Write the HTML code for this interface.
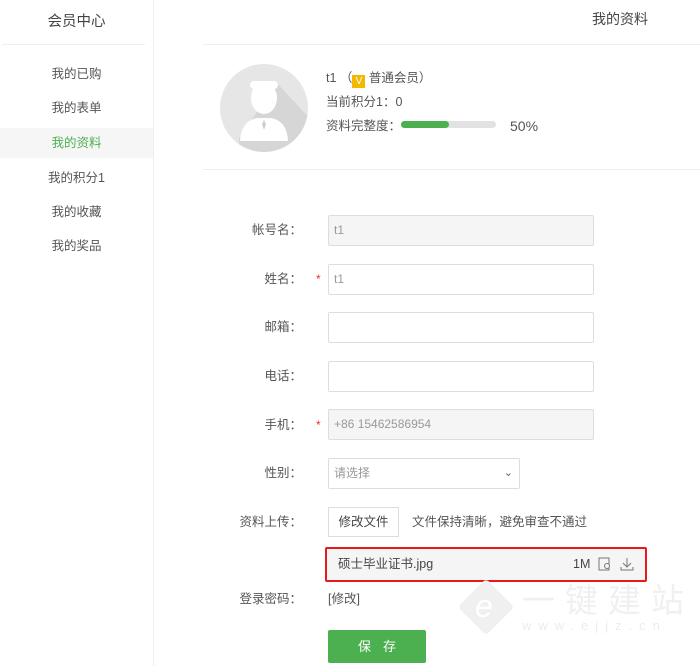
<!DOCTYPE html>
<html><head><meta charset="utf-8"><style>
*{margin:0;padding:0;box-sizing:border-box}
body{width:700px;height:668px;background:#fff;font-family:"Liberation Sans","Noto Sans CJK SC",sans-serif;position:relative;overflow:hidden;color:#555;font-size:12.5px;line-height:16px}
.a{position:absolute}
.side{left:0;top:0;width:154px;height:666px;border-right:1px solid #eee}
.nav{left:0;width:153px;text-align:center;color:#555}
.lab{width:100px;left:202px;text-align:right;color:#555}
.in{left:328px;width:266px;height:31px;border:1px solid #ddd;border-radius:2px;font-size:12px;color:#999;padding-left:5px;line-height:29px}
.star{color:#e33;left:316px;font-size:12px}
</style></head><body>
<div class="a side"></div>
<div class="a nav" style="top:14px;font-size:14.5px;color:#444">会员中心</div>
<div class="a" style="left:2px;top:44px;width:143px;height:1px;background:#eee"></div>
<div class="a nav" style="top:66px">我的已购</div>
<div class="a nav" style="top:100px">我的表单</div>
<div class="a" style="left:0;top:128px;width:153px;height:30px;background:#f6f6f6"></div>
<div class="a nav" style="top:135px;color:#4caf50">我的资料</div>
<div class="a nav" style="top:170px">我的积分1</div>
<div class="a nav" style="top:204px">我的收藏</div>
<div class="a nav" style="top:238px">我的奖品</div>

<div class="a" style="left:592px;top:11px;font-size:14px;color:#444">我的资料</div>
<div class="a" style="left:203px;top:44px;width:497px;height:1px;background:#eee"></div>
<div class="a" style="left:203px;top:169px;width:497px;height:1px;background:#eee"></div>

<svg class="a" style="left:219px;top:63px" width="90" height="90" viewBox="0 0 90 90">
<defs><clipPath id="c"><circle cx="45" cy="45" r="44"/></clipPath></defs>
<circle cx="45" cy="45" r="44" fill="#e6e6e6"/>
<polygon clip-path="url(#c)" points="58,20 95,60 95,95 20,95 20,75" fill="#d6d6d6"/>
<ellipse cx="45" cy="35" rx="13" ry="16" fill="#fff"/>
<rect x="31" y="18" width="28" height="8" rx="4" fill="#fff"/>
<path d="M21 78 Q22 58 38 55 L52 55 Q68 58 69 78 Z" fill="#fff"/>
<path d="M45 57 l-2 4 l2 6 l2 -6 z" fill="#ccc"/>
</svg>
<div class="a" style="left:326px;top:70px;color:#555">t1 （<span style="display:inline-block;width:13px;height:13px;background:#f5b800;color:#fff;font-size:10px;line-height:13px;text-align:center;vertical-align:-2px">V</span> 普通会员）</div>
<div class="a" style="left:326px;top:94px">当前积分1：0</div>
<div class="a" style="left:326px;top:118px">资料完整度：</div>
<div class="a" style="left:401px;top:121px;width:95px;height:7px;border-radius:4px;background:#e2e2e2"></div>
<div class="a" style="left:401px;top:121px;width:48px;height:7px;border-radius:4px;background:#4caf50"></div>
<div class="a" style="left:510px;top:118px;font-size:14px">50%</div>

<div class="a lab" style="top:222px">帐号名：</div>
<div class="a in" style="top:215px;background:#f5f5f5">t1</div>
<div class="a lab" style="top:271px">姓名：</div><div class="a star" style="top:271px">*</div>
<div class="a in" style="top:264px">t1</div>
<div class="a lab" style="top:319px">邮箱：</div>
<div class="a in" style="top:312px"></div>
<div class="a lab" style="top:368px">电话：</div>
<div class="a in" style="top:361px"></div>
<div class="a lab" style="top:417px">手机：</div><div class="a star" style="top:417px">*</div>
<div class="a in" style="top:409px;background:#f5f5f5">+86 15462586954</div>
<div class="a lab" style="top:465px">性别：</div>
<div class="a in" style="top:458px;width:192px">请选择<span style="position:absolute;right:6px;top:0;color:#666;font-size:11px">&#8964;</span></div>
<div class="a lab" style="top:514px">资料上传：</div>
<div class="a" style="left:328px;top:507px;width:71px;height:30px;border:1px solid #ddd;text-align:center;line-height:28px;color:#444">修改文件</div>
<div class="a" style="left:412px;top:514px;color:#555">文件保持清晰，避免审查不通过</div>
<div class="a" style="left:325px;top:547px;width:322px;height:35px;border:2px solid #e8191a;border-radius:2px;background:#f5f5f5"></div>
<div class="a" style="left:338px;top:556px;color:#444">硕士毕业证书.jpg</div>
<div class="a" style="left:573px;top:556px;color:#444">1M</div>
<svg class="a" style="left:598px;top:557px" width="36" height="14" viewBox="0 0 36 14"><rect x="1" y="1" width="10" height="12" fill="none" stroke="#777"/><circle cx="9" cy="9" r="2.5" fill="#f5f5f5" stroke="#777"/><path d="M29 1v8M25 6l4 4 4-4M23 10v3h12v-3" fill="none" stroke="#777"/></svg>
<div class="a lab" style="top:591px">登录密码：</div>
<div class="a" style="left:328px;top:591px">[修改]</div>
<div class="a" style="left:328px;top:630px;width:98px;height:33px;background:#4caf50;border-radius:2px;color:#fff;text-align:center;line-height:33px;font-size:13px;letter-spacing:12px;text-indent:12px">保存</div>

<div class="a" style="left:466px;top:587px;width:40px;height:40px;background:#f0f0f0;transform:rotate(45deg);border-radius:4px"></div>
<div class="a" style="left:475px;top:588px;font-size:32px;line-height:36px;color:#fff;font-style:italic">e</div>
<div class="a" style="left:522px;top:583px;font-size:33px;line-height:36px;color:#f0f0f0;letter-spacing:10px">一键建站</div>
<div class="a" style="left:522px;top:618px;font-size:13px;color:#ececec;letter-spacing:7px">www.ejjz.cn</div>
</body></html>
